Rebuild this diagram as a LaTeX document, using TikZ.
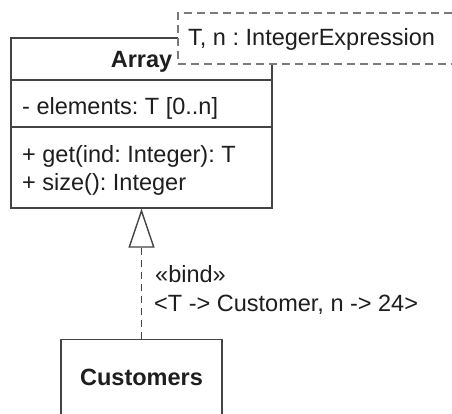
\documentclass[tikz,border=0pt]{standalone}
\usepackage{fontspec}
\setmainfont{Liberation Sans}
\usetikzlibrary{arrows.meta}
\definecolor{umlline}{HTML}{444444}
\definecolor{umltext}{HTML}{1E1E1E}
\definecolor{tplline}{HTML}{7A7A7A}
\newcommand{\umlfont}{\fontsize{23.5}{28}\selectfont\frenchspacing}
\tikzset{
  classbox/.style={draw=umlline, line width=1.4pt, fill=white, inner sep=0pt},
  tplbox/.style={draw=tplline, line width=1.8pt, fill=white, inner sep=0pt,
    dash pattern=on 8pt off 5pt},
  member/.style={inner sep=0pt, text height=16.8pt, text depth=0pt,
    text=umltext, anchor=west, font=\umlfont},
  classname/.style={member, anchor=center, font=\umlfont\bfseries},
  sep/.style={draw=umlline, line width=1.4pt},
  realize/.style={draw=umlline, line width=1.4pt, dash pattern=on 7pt off 5pt,
    -{Triangle[open, length=39pt, width=26pt, line width=1.4pt]}},
}
\begin{document}
\begin{tikzpicture}[x=1pt, y=-1pt]
  \clip (0,0) rectangle (452,414);
  \fill[white] (0,0) rectangle (452,414);

  % class Array with its three compartments
  \node[classbox, minimum width=261pt, minimum height=170pt] (array) at (141.5,123) {};
  \coordinate (attrtop) at (0,80);
  \coordinate (opstop) at (0,127);
  \draw[sep] (array.west |- attrtop) -- (array.east |- attrtop);
  \draw[sep] (array.west |- opstop) -- (array.east |- opstop);
  \node[classname] (arrayname) at (141.5,59) {Array};
  \node[member] (attr) at (22,106) {- elements: T [0..n]};
  \node[member] (opget) at (22,154) {+ get(ind: Integer): T};
  \node[member] (opsize) at (22,182) {+ size(): Integer};

  % template parameter box on the upper right corner
  \node[tplbox, anchor=north west, minimum width=300pt, minimum height=51pt] (tpl) at (177,12) {};
  \node[member] (tplparams) at (188,37) {T, n : IntegerExpression};

  % bound class
  \node[classbox, anchor=north, minimum width=161pt, minimum height=110pt] (customers) at (141.5,339) {};
  \node[classname] (custname) at (141.5,377) {Customers};

  % template binding
  \draw[realize] (customers.north) -- (array.south);
  \node[member] (bind) at (155,274.5) {«bind»};
  \node[member] (subst) at (154,303) {<T -> Customer, n -> 24>};
\end{tikzpicture}
\end{document}
